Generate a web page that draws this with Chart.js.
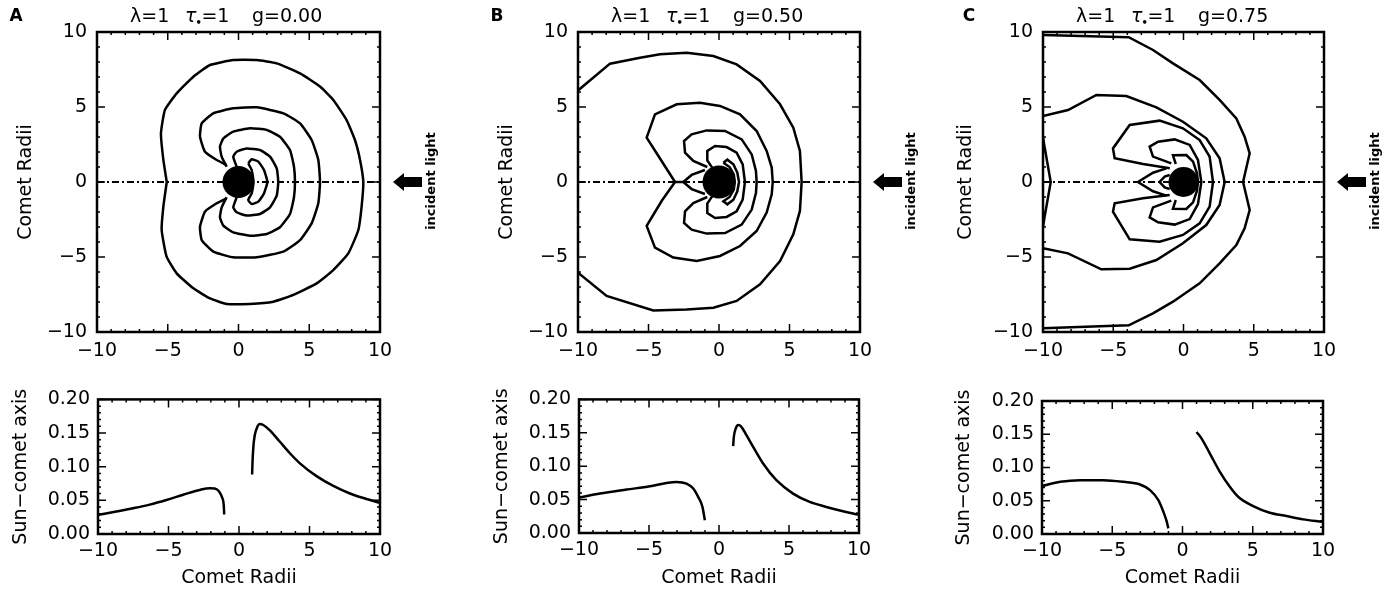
<!DOCTYPE html>
<html>
<head>
<meta charset="utf-8">
<script src="https://cdn.jsdelivr.net/npm/chart.js@4.4.0/dist/chart.umd.min.js"></script>
<style>
  body { margin: 0; background: #fff; width: 1395px; height: 590px; position: relative; overflow: hidden; }
  canvas { position: absolute; }
</style>
</head>
<body>
<canvas id="topA" width="465" height="372" style="left:0;top:0"></canvas>
<canvas id="topB" width="465" height="372" style="left:465px;top:0"></canvas>
<canvas id="topC" width="465" height="372" style="left:930px;top:0"></canvas>
<canvas id="botA" width="465" height="210" style="left:0;top:380px"></canvas>
<canvas id="botB" width="465" height="210" style="left:465px;top:380px"></canvas>
<canvas id="botC" width="465" height="210" style="left:930px;top:380px"></canvas>
<script>
// sun-comet axis (dash-dot line through the nucleus)
const sunAxis = [[-10, 0], [10, 0]];

// Panel A contours, g = 0.00
const contA1 = [[-5.07,0],[-5.31,1.47],[-5.48,3.24],[-5.2,4.8],[-4.37,5.91],[-3.19,7.02],[-2.01,7.8],[-0.37,8.13],[1.28,8.13],[2.7,7.91],[4.35,7.24],[5.76,6.36],[6.7,5.47],[7.64,4.13],[8.23,2.8],[8.59,1.47],[8.82,0],[8.7,-1.64],[8.47,-3.2],[7.76,-4.76],[6.7,-5.87],[5.52,-6.76],[3.87,-7.53],[2.46,-7.98],[0.81,-8.13],[-0.84,-8.13],[-2.01,-7.76],[-3.19,-7.09],[-4.37,-6.09],[-5.08,-4.98],[-5.43,-3.2],[-5.31,-1.64],[-5.07,0]];
const contA2 = [[-0.84,1.13],[-1.54,1.47],[-2.37,2.02],[-2.72,3.02],[-2.6,3.91],[-1.78,4.58],[-0.37,4.91],[1.28,4.98],[3.17,4.58],[4.35,3.91],[5.17,2.8],[5.64,1.47],[5.76,0],[5.64,-1.42],[5.17,-2.76],[4.35,-3.87],[3.17,-4.64],[1.28,-5.02],[-0.37,-5.02],[-1.78,-4.64],[-2.6,-3.87],[-2.72,-2.98],[-2.37,-1.98],[-1.54,-1.42],[-0.84,-1.09]];
const contA3 = [[-0.84,1.02],[-1.19,1.69],[-1.31,2.36],[-1.07,2.91],[-0.37,3.36],[0.81,3.58],[2.0,3.47],[2.93,3.02],[3.64,2.13],[3.92,1.02],[3.99,0],[3.92,-1.02],[3.64,-2.13],[2.93,-3.02],[2.0,-3.47],[0.81,-3.58],[-0.37,-3.36],[-1.07,-2.91],[-1.31,-2.36],[-1.19,-1.69],[-0.84,-1.02]];
const contA4 = [[-0.13,1.02],[-0.37,1.69],[-0.13,2.02],[0.58,2.24],[1.52,2.13],[2.23,1.69],[2.7,0.91],[2.81,0],[2.7,-0.91],[2.23,-1.69],[1.52,-2.13],[0.58,-2.24],[-0.13,-2.02],[-0.37,-1.69],[-0.13,-1.02]];
const contA5 = [[0.69,1.24],[0.93,1.51],[1.4,1.36],[1.8,0.8],[2.04,0],[1.8,-0.76],[1.4,-1.31],[0.93,-1.47],[0.69,-1.2],[0.93,-0.76],[1.05,0],[0.93,0.8],[0.69,1.24]];

// Panel B contours, g = 0.50
const contB1 = [[-10,6.1],[-7.73,7.89],[-5.6,8.29],[-4.18,8.51],[-2.29,8.62],[-0.4,8.4],[1.25,7.84],[2.91,6.73],[4.33,5.18],[5.27,3.62],[5.74,2.07],[5.86,0],[5.74,-1.93],[5.27,-3.49],[4.33,-5.27],[2.91,-6.82],[1.25,-7.93],[-0.4,-8.38],[-2.29,-8.5],[-4.66,-8.56],[-7.97,-7.6],[-10,-6.04]];
const contB2 = [[-3.12,0],[-4.07,1.4],[-5.13,2.96],[-4.54,4.51],[-3.0,5.18],[-1.35,5.29],[0.07,5.07],[1.49,4.51],[2.67,3.4],[3.38,2.07],[3.74,0.96],[3.81,0],[3.74,-0.82],[3.38,-2.04],[2.67,-3.27],[1.49,-4.27],[0.07,-4.93],[-1.58,-5.27],[-3.24,-5.04],[-4.54,-4.38],[-5.13,-2.93],[-4.07,-1.27],[-3.12,0]];
const contB3 = [[-0.83,1.0],[-1.82,1.4],[-2.41,1.96],[-2.48,2.73],[-1.94,3.18],[-0.87,3.44],[0.43,3.4],[1.61,2.84],[2.32,1.84],[2.62,0.73],[2.67,0],[2.62,-0.73],[2.32,-1.84],[1.61,-2.84],[0.43,-3.4],[-0.87,-3.44],[-1.94,-3.18],[-2.48,-2.73],[-2.41,-1.96],[-1.82,-1.4],[-0.83,-1.0]];
const contB4 = [[-0.45,0.91],[-0.83,1.44],[-0.83,2.07],[-0.28,2.4],[0.54,2.33],[1.25,1.96],[1.68,1.18],[1.84,0],[1.68,-1.18],[1.25,-1.96],[0.54,-2.33],[-0.28,-2.4],[-0.83,-2.07],[-0.83,-1.44],[-0.45,-0.91]];
const contB5 = [[0.31,1.29],[0.59,1.49],[1.02,1.18],[1.3,0.62],[1.42,0],[1.3,-0.62],[1.02,-1.18],[0.59,-1.49],[0.31,-1.29],[0.75,-1.0],[1.05,-0.5],[1.12,0],[1.05,0.5],[0.75,1.0],[0.31,1.29]];
const contB6 = [[-1.0,0.8],[-1.94,0.47],[-2.53,0],[-3.12,0],[-2.53,0],[-1.94,-0.47],[-1.0,-0.8]];

// Panel C contours, g = 0.75
const contC1 = [[-10,9.8],[-3.9,9.65],[-2.17,8.8],[-0.75,7.91],[1.15,6.8],[2.57,5.47],[3.76,4.24],[4.35,3.02],[4.71,1.91],[4.24,0],[4.71,-1.87],[4.35,-3.09],[3.76,-4.2],[2.57,-5.42],[1.15,-6.76],[-0.75,-7.98],[-2.17,-8.76],[-3.9,-9.55],[-10,-9.75]];
const contC2 = [[-10,4.4],[-8.22,4.8],[-6.2,5.8],[-4.07,5.73],[-1.93,4.98],[-0.04,4.02],[1.62,2.91],[2.57,1.58],[2.93,0],[2.57,-1.53],[1.62,-2.87],[-0.04,-4.09],[-1.93,-5.2],[-3.83,-5.78],[-5.85,-5.82],[-8.22,-4.76],[-10,-4.42]];
const contC3 = [[-0.98,0.91],[-2.88,1.2],[-4.9,1.58],[-5.02,2.24],[-3.83,3.8],[-1.7,4.09],[-0.04,3.58],[1.15,2.8],[1.86,1.69],[2.1,0],[1.86,-1.64],[1.15,-2.76],[-0.04,-3.53],[-1.7,-3.98],[-3.83,-3.82],[-5.02,-1.98],[-4.9,-1.42],[-2.88,-1.09],[-0.98,-0.87]];
const contC4 = [[-0.87,1.24],[-2.17,1.69],[-2.41,2.36],[-1.81,2.69],[-0.63,2.84],[0.44,2.47],[1.03,1.47],[1.27,0],[1.03,-1.47],[0.44,-2.47],[-0.63,-2.84],[-1.81,-2.69],[-2.41,-2.36],[-2.17,-1.69],[-0.87,-1.24]];
const contC5 = [[-0.55,1.2],[-0.75,1.78],[0.2,1.8],[0.68,1.36],[0.96,0.58],[1.03,0],[0.96,-0.58],[0.68,-1.36],[0.2,-1.8],[-0.75,-1.78],[-0.55,-1.2]];
const contC6 = [[-1.22,0.91],[-2.17,0.62],[-3.24,0],[-2.17,-0.62],[-1.22,-0.91]];
const contC7 = [[-0.98,0.47],[-1.34,0.36],[-1.7,0],[-1.34,-0.36],[-0.98,-0.47]];
const contC8 = [[-10,3.0],[-9.9,2.4],[-9.45,0],[-9.9,-2.4],[-10,-3.0]];

// Brightness along the sun-comet axis (lower panels)
const axisA_tail = [[-9.95,0.0286],[-8.7,0.0335],[-7.51,0.0383],[-6.33,0.0437],[-5.15,0.0505],[-3.96,0.0583],[-2.78,0.0655],[-2.07,0.068],[-1.72,0.0675],[-1.41,0.063],[-1.2,0.0544],[-1.08,0.0422],[-1.05,0.029]];
const axisA_head = [[0.93,0.0883],[0.96,0.108],[1.05,0.137],[1.24,0.156],[1.48,0.1636],[1.72,0.162],[2.19,0.154],[2.9,0.137],[3.61,0.12],[4.32,0.105],[5.5,0.086],[6.69,0.0714],[7.87,0.0602],[9.05,0.052],[9.95,0.0466]];
const axisB_tail = [[-10,0.053],[-8.5,0.059],[-6.6,0.065],[-4.93,0.07],[-3.75,0.075],[-3.03,0.0765],[-2.32,0.074],[-1.84,0.0665],[-1.49,0.054],[-1.18,0.039],[-1.01,0.019]];
const axisB_head = [[1.01,0.13],[1.06,0.144],[1.2,0.1565],[1.37,0.1615],[1.6,0.159],[1.96,0.1465],[2.44,0.129],[3.15,0.104],[4.1,0.079],[5.29,0.059],[6.48,0.0465],[7.67,0.039],[8.86,0.0325],[9.93,0.0275]];
const axisC_tail = [[-10,0.072],[-8.7,0.0785],[-7.28,0.081],[-5.62,0.081],[-4.2,0.0785],[-3.02,0.0745],[-2.31,0.066],[-1.72,0.051],[-1.36,0.0335],[-1.12,0.0185],[-1.01,0.0085]];
const axisC_head = [[1.0,0.1535],[1.36,0.1435],[1.95,0.121],[2.66,0.0935],[3.37,0.071],[3.96,0.056],[5.03,0.042],[6.21,0.032],[7.4,0.027],[8.58,0.022],[9.95,0.0185]];

const FONT = 'DejaVu Sans';
Chart.defaults.font.family = FONT;
Chart.defaults.font.size = 19;
Chart.defaults.color = '#000';

const toXY = arr => arr.map(([x, y]) => ({ x, y }));
const fmtSigned = v => (v < 0 ? '\u2212' + Math.abs(v) : String(v));

// box round the plot with inward ticks on all four sides
const framePlugin = {
  id: 'frame',
  afterDatasetsDraw(chart, args, o) {
    const { ctx, chartArea: a, scales: { x, y } } = chart;
    const isMajor = (v, step) => Math.abs(v / step - Math.round(v / step)) < 1e-6;
    ctx.save();
    ctx.strokeStyle = '#000';
    ctx.lineWidth = 1.5;
    ctx.beginPath();
    const nx = Math.round((x.max - x.min) / o.xMinor);
    for (let i = 0; i <= nx; i++) {
      const v = x.min + i * o.xMinor;
      const px = x.getPixelForValue(v);
      const len = isMajor(v, o.xMajor) ? 8 : 3;
      ctx.moveTo(px, a.bottom); ctx.lineTo(px, a.bottom - len);
      ctx.moveTo(px, a.top); ctx.lineTo(px, a.top + len);
    }
    const ny = Math.round((y.max - y.min) / o.yMinor);
    for (let i = 0; i <= ny; i++) {
      const v = y.min + i * o.yMinor;
      const py = y.getPixelForValue(v);
      const len = isMajor(v, o.yMajor) ? 8 : 3;
      ctx.moveTo(a.left, py); ctx.lineTo(a.left + len, py);
      ctx.moveTo(a.right, py); ctx.lineTo(a.right - len, py);
    }
    ctx.stroke();
    ctx.lineWidth = 2.5;
    ctx.strokeRect(a.left, a.top, a.right - a.left, a.bottom - a.top);
    ctx.restore();
  }
};

// panel letter, parameter title and incident light arrow
const panelText = {
  id: 'panelText',
  afterDraw(chart, args, o) {
    if (!o.letter) return;
    const { ctx, chartArea: a, scales: { y } } = chart;
    ctx.save();
    ctx.fillStyle = '#000';
    ctx.textBaseline = 'middle';
    ctx.textAlign = 'center';
    ctx.font = `bold 17px "${FONT}"`;
    ctx.fillText(o.letter, o.letterX, 17);

    ctx.textAlign = 'left';
    const x0 = a.left + 33, ty = 17;
    ctx.font = `19px "${FONT}"`;
    ctx.fillText('\u03bb=1', x0, ty);
    ctx.font = `italic 19px "${FONT}"`;
    ctx.fillText('\u03c4', x0 + 55, ty);
    const tw = ctx.measureText('\u03c4').width;
    ctx.font = `bold 10px "${FONT}"`;
    ctx.fillText('\u2022', x0 + 55 + tw - 1, ty + 6);
    ctx.font = `19px "${FONT}"`;
    ctx.fillText('=1', x0 + 55 + tw + 5, ty);
    ctx.fillText('g=' + o.g, x0 + 122, ty);

    // arrow pointing toward the comet
    const y0 = y.getPixelForValue(0);
    const tip = a.right + 13;
    ctx.beginPath();
    ctx.moveTo(tip, y0);
    ctx.lineTo(tip + 11, y0 - 9);
    ctx.lineTo(tip + 11, y0 - 5);
    ctx.lineTo(tip + 29, y0 - 5);
    ctx.lineTo(tip + 29, y0 + 5);
    ctx.lineTo(tip + 11, y0 + 5);
    ctx.lineTo(tip + 11, y0 + 9);
    ctx.closePath();
    ctx.fill();

    ctx.translate(a.right + 52, y0 - 1);
    ctx.rotate(-Math.PI / 2);
    ctx.textAlign = 'center';
    ctx.font = `bold 13px "${FONT}"`;
    ctx.fillText('incident light', 0, 0);
    ctx.restore();
  }
};

Chart.register(framePlugin, panelText);

function lineSet(arr, tension) {
  return { data: toXY(arr), showLine: true, borderColor: '#000', borderWidth: 2.5, pointRadius: 0, tension: tension };
}

function contourChart(id, cfg) {
  const datasets = [
    { data: [{ x: 0, y: 0 }], pointRadius: cfg.nucleus, pointBackgroundColor: '#000', pointBorderWidth: 0, showLine: false },
    ...cfg.contours.map(c => lineSet(c, cfg.tension)),
    Object.assign(lineSet(sunAxis, 0), { borderWidth: 2, borderDash: [7, 3, 2, 3] })
  ];
  new Chart(document.getElementById(id), {
    type: 'scatter',
    data: { datasets },
    options: {
      responsive: false,
      animation: false,
      devicePixelRatio: 1,
      layout: { padding: { top: 32, right: cfg.padRight, left: 0, bottom: 0 } },
      plugins: {
        legend: { display: false },
        tooltip: { enabled: false },
        frame: { xMinor: 1, xMajor: 5, yMinor: 1, yMajor: 5 },
        panelText: { letter: cfg.letter, letterX: cfg.letterX, g: cfg.g }
      },
      scales: {
        x: {
          type: 'linear', min: -10, max: 10,
          grid: { display: false, drawTicks: false }, border: { display: false },
          ticks: { stepSize: 5, padding: 8, maxRotation: 0, callback: fmtSigned },
          afterFit: s => { s.height = 40; }
        },
        y: {
          type: 'linear', min: -10, max: 10,
          grid: { display: false, drawTicks: false }, border: { display: false },
          ticks: { stepSize: 5, padding: 10, callback: fmtSigned },
          title: { display: true, text: 'Comet Radii', padding: { top: cfg.yTitlePad, bottom: 0 } },
          afterFit: s => { s.width = cfg.yWidth; }
        }
      }
    }
  });
}

function axisChart(id, cfg) {
  new Chart(document.getElementById(id), {
    type: 'scatter',
    data: {
      datasets: cfg.curves.map(c => Object.assign(lineSet(c, 0), { cubicInterpolationMode: 'monotone' }))
    },
    options: {
      responsive: false,
      animation: false,
      devicePixelRatio: 1,
      layout: { padding: { top: cfg.padTop, right: cfg.padRight, left: 0, bottom: 0 } },
      plugins: {
        legend: { display: false },
        tooltip: { enabled: false },
        frame: { xMinor: 1, xMajor: 5, yMinor: 0.01, yMajor: 0.05 }
      },
      scales: {
        x: {
          type: 'linear', min: -10, max: 10,
          grid: { display: false, drawTicks: false }, border: { display: false },
          ticks: { stepSize: 5, padding: 6, maxRotation: 0, callback: fmtSigned },
          title: { display: true, text: 'Comet Radii', padding: { top: 0, bottom: 1 } },
          afterFit: s => { s.height = cfg.xHeight; }
        },
        y: {
          type: 'linear', min: 0, max: 0.2,
          grid: { display: false, drawTicks: false }, border: { display: false },
          ticks: { stepSize: 0.05, padding: 8, callback: v => v.toFixed(2) },
          title: { display: true, text: 'Sun\u2212comet axis', padding: { top: cfg.yTitlePad, bottom: 0 } },
          afterFit: s => { s.width = cfg.yWidth; }
        }
      }
    }
  });
}

contourChart('topA', { letter: 'A', letterX: 16, g: '0.00', yWidth: 97, padRight: 85, yTitlePad: 15, nucleus: 16, tension: 0.15,
  contours: [contA1, contA2, contA3, contA4, contA5] });
contourChart('topB', { letter: 'B', letterX: 32, g: '0.50', yWidth: 113, padRight: 70, yTitlePad: 31, nucleus: 16.5, tension: 0,
  contours: [contB1, contB2, contB3, contB4, contB5, contB6] });
contourChart('topC', { letter: 'C', letterX: 39, g: '0.75', yWidth: 113, padRight: 71, yTitlePad: 25, nucleus: 15, tension: 0,
  contours: [contC1, contC2, contC3, contC4, contC5, contC6, contC7, contC8] });

axisChart('botA', { yWidth: 98, padRight: 85, padTop: 17, xHeight: 56, yTitlePad: 10, curves: [axisA_tail, axisA_head] });
axisChart('botB', { yWidth: 114, padRight: 71, padTop: 18, xHeight: 57, yTitlePad: 26, curves: [axisB_tail, axisB_head] });
axisChart('botC', { yWidth: 112, padRight: 72, padTop: 21, xHeight: 56, yTitlePad: 23, curves: [axisC_tail, axisC_head] });
</script>
</body>
</html>
